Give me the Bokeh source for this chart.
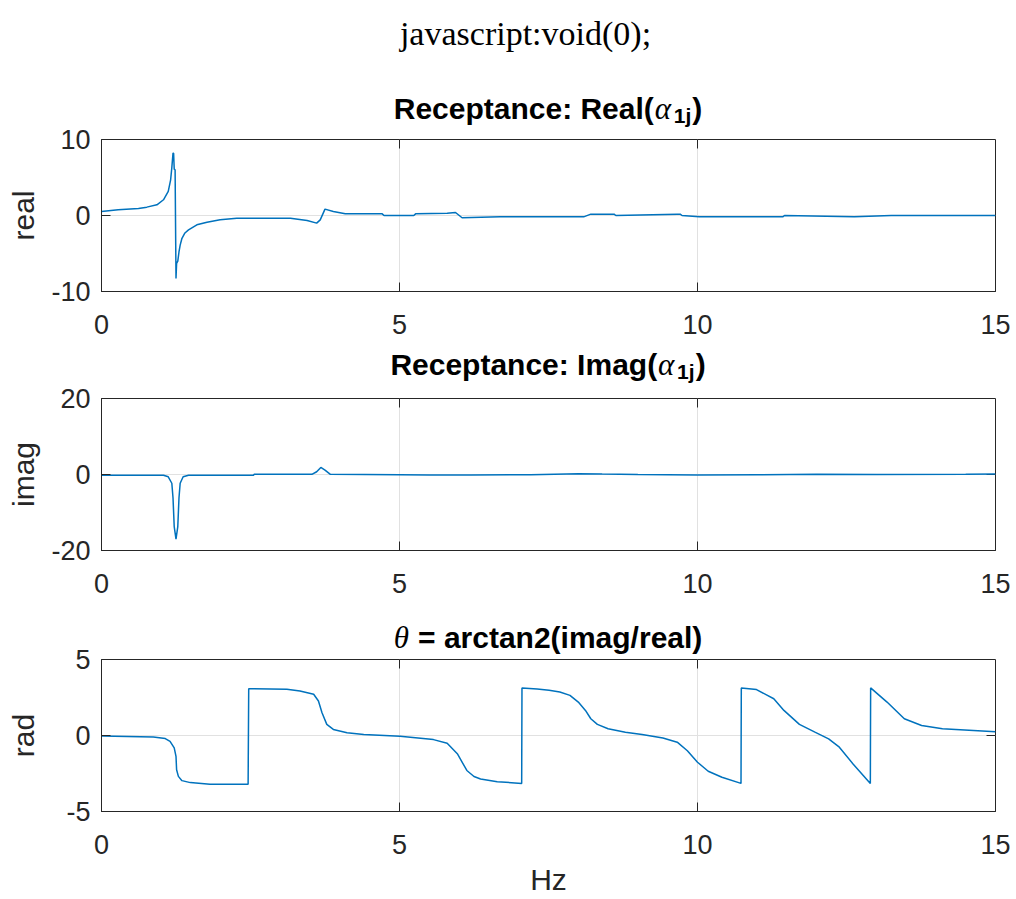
import math
from bokeh.plotting import figure
from bokeh.layouts import column
from bokeh.models import FixedTicker, LinearAxis, Range1d, Grid
from bokeh.core.properties import value
from bokeh.embed import file_html
from bokeh.resources import INLINE

# ---------------- data ----------------
freq_real = [0.00, 0.28, 0.62, 0.76, 0.93, 1.04, 1.12, 1.16, 1.18, 1.20, 1.21, 1.22, 1.235,
             1.25, 1.26, 1.28, 1.30, 1.32, 1.35, 1.40, 1.46, 1.60, 1.77, 1.99, 2.27, 2.60,
             3.00, 3.17, 3.45, 3.61, 3.67, 3.75, 3.89, 4.09, 4.71, 4.74, 5.24, 5.27, 5.80,
             5.94, 6.05, 6.69, 8.09, 8.21, 8.60, 8.63, 9.66, 9.71, 9.74, 10.03, 11.43, 11.46,
             12.63, 13.25, 15.00]
real_vals = [0.53, 0.75, 0.93, 1.10, 1.41, 2.07, 3.17, 4.70, 6.30, 8.20, 8.20, 6.10, 6.00,
             -8.30, -6.30, -6.00, -4.80, -3.90, -3.00, -2.30, -1.90, -1.23, -0.88, -0.57, -0.35, -0.35,
             -0.35, -0.35, -0.66, -1.00, -0.57, 0.84, 0.53, 0.22, 0.22, 0.00, 0.00, 0.22, 0.30,
             0.40, -0.30, -0.18, -0.18, 0.18, 0.18, 0.00, 0.18, 0.18, 0.00, -0.18, -0.18, 0.00,
             -0.18, 0.00, 0.00]

freq_imag = [0.00, 1.04, 1.12, 1.18, 1.20, 1.22, 1.25, 1.28, 1.30, 1.32, 1.37, 1.46, 2.55, 2.56,
             3.53, 3.61, 3.68, 3.75, 3.84, 5.00, 5.50, 6.20, 7.20, 8.00, 8.40, 9.00, 10.00,
             11.00, 12.00, 13.00, 14.50, 15.00]
imag_vals = [-0.20, -0.20, -0.60, -2.30, -6.20, -13.70, -17.00, -13.70, -6.20, -2.30, -0.60, -0.20,
             -0.20, 0.05, 0.05, 0.73, 1.85, 1.15, 0.05, -0.05, -0.10, -0.15, -0.05, 0.20, 0.10,
             0.00, -0.10, -0.05, 0.05, 0.00, 0.05, 0.10]

freq_phase = [0.00, 0.87, 1.07, 1.15, 1.22, 1.25, 1.26, 1.29, 1.35, 1.49, 1.82, 2.46, 2.47,
              3.11, 3.33, 3.56, 3.64, 3.70, 3.78, 3.89, 4.12, 4.40, 5.01, 5.57, 5.80, 5.97,
              6.13, 6.25, 6.36, 6.64, 7.05, 7.055, 7.31, 7.51, 7.69, 7.86, 8.00, 8.12, 8.21,
              8.32, 8.50, 8.79, 9.07, 9.42, 9.66, 9.83, 10.00, 10.18, 10.41, 10.73, 10.735,
              10.99, 11.28, 11.45, 11.71, 11.97, 12.20, 12.38, 12.61, 12.90, 12.905, 13.18,
              13.47, 13.76, 14.11, 14.63, 15.00]
phase_vals = [-0.04, -0.10, -0.20, -0.38, -0.82, -1.37, -2.25, -2.69, -2.97, -3.10, -3.20, -3.20, 3.08,
              3.04, 2.93, 2.71, 2.27, 1.50, 0.73, 0.40, 0.18, 0.07, -0.05, -0.27, -0.51, -1.20,
              -2.30, -2.70, -2.86, -3.04, -3.15, 3.13, 3.06, 2.97, 2.86, 2.64, 2.20, 1.65, 1.10,
              0.73, 0.44, 0.22, 0.07, -0.17, -0.44, -1.00, -1.76, -2.35, -2.75, -3.15, 3.13,
              3.02, 2.42, 1.65, 0.73, 0.22, -0.22, -0.77, -1.87, -3.15, 3.13, 2.20,
              1.10, 0.66, 0.44, 0.33, 0.25]

x_ticks = [0, 5, 10, 15]
real_ticks = [-10, 0, 10]
imag_ticks = [-20, 0, 20]
phase_ticks = [-5, 0, 5]

suptitle = "javascript:void(0);"
title_real = "Receptance: Real("
title_imag = "Receptance: Imag("
title_phase = "= arctan2(imag/real)"   # preceded by an italic theta and a space

FONT = "Liberation Sans"
SERIF = "Liberation Serif"
AX = "#262626"
BLUE = "#0072BD"
GRID = "#e1e1e1"
W = 1016
FRAME_L, FRAME_R = 101, 995
FRAME_H = 152
CX = 547.5

# Arial-bold advance widths (per 1000 em) for title layout
AW = {'R': 722, 'e': 556, 'c': 556, 'p': 611, 't': 333, 'a': 556, 'n': 611, ':': 333, ' ': 278,
      'l': 278, '(': 333, ')': 333, 'I': 278, 'm': 889, 'g': 611, '=': 584, 'r': 389, '2': 556,
      'i': 278, '/': 278, 'j': 278, '1': 556}


def bw(s, size):
    return sum(AW[c] for c in s) * size / 1000.0


def style_axis(ax, standoff):
    ax.major_tick_in = 9
    ax.major_tick_out = 0
    ax.minor_tick_in = 0
    ax.minor_tick_out = 0
    ax.major_tick_line_color = AX
    ax.axis_line_color = AX
    ax.major_label_text_font = FONT
    ax.major_label_text_font_size = "27px"
    ax.major_label_text_color = AX
    ax.major_label_standoff = standoff
    ax.axis_label_text_font = FONT
    ax.axis_label_text_font_style = "normal"
    ax.axis_label_text_font_size = "30px"
    ax.axis_label_text_color = AX


class Sub:
    def __init__(self, height, top, bottom, yr, yticks, ylabel, xvals, yvals, y_std, xlabel=None):
        self.yr = yr
        p = figure(width=W, height=height, output_backend="svg", toolbar_location=None,
                   x_range=Range1d(0, 15), y_range=Range1d(*yr),
                   x_axis_type=None, y_axis_type=None,
                   min_border_left=FRAME_L, min_border_right=W - FRAME_R,
                   min_border_top=top, min_border_bottom=bottom)
        p.outline_line_color = AX
        p.outline_line_width = 1
        p.background_fill_color = "white"
        p.border_fill_color = "white"

        p.add_layout(Grid(dimension=0, ticker=FixedTicker(ticks=x_ticks), grid_line_color=GRID))
        p.add_layout(Grid(dimension=1, ticker=FixedTicker(ticks=yticks), grid_line_color=GRID))

        xb = LinearAxis(ticker=FixedTicker(ticks=x_ticks),
                        major_label_overrides={t: str(t) for t in x_ticks})
        style_axis(xb, 23)
        if xlabel:
            xb.axis_label = xlabel
            xb.axis_label_standoff = 6
        p.add_layout(xb, "below")

        yl = LinearAxis(ticker=FixedTicker(ticks=yticks), axis_label=ylabel,
                        major_label_overrides={t: str(t) for t in yticks})
        style_axis(yl, 11)
        yl.axis_label_standoff = y_std
        p.add_layout(yl, "left")

        # inward tick marks on the top and right edges of the box (half clipped by the frame)
        inner_x = x_ticks[1:-1]
        p.scatter(x=inner_x, y=[yr[1]] * len(inner_x), marker="dash", angle=math.pi / 2,
                  size=18, line_color=AX, line_width=1)
        inner_y = yticks[1:-1]
        p.scatter(x=[x_ticks[-1]] * len(inner_y), y=inner_y, marker="dash",
                  size=18, line_color=AX, line_width=1)

        p.line(xvals, yvals, line_color=BLUE, line_width=1.5)
        self.p = p

    # pixel helpers: horizontal page pixel -> data x ; pixels above frame top -> data y
    def dx(self, px):
        return (px - FRAME_L) * 15.0 / (FRAME_R - FRAME_L)

    def dy(self, above):
        lo, hi = self.yr
        return hi + above * (hi - lo) / FRAME_H

    def put(self, px, above, txt, font, style, size, align="left"):
        self.p.text(x=[self.dx(px)], y=[self.dy(above)], text=[txt], text_font=value(font),
                    text_font_style=style, text_font_size=size, text_color="black",
                    text_align=align, text_baseline="alphabetic", level="overlay")

    def alpha_title(self, part1, above):
        w1 = bw(part1, 30)
        wa = 19
        ws = bw("1j", 21)
        wc = bw(")", 30)
        total = w1 + 1 + wa + ws + 1 + wc
        s = CX - total / 2.0
        self.put(s, above, part1, FONT, "bold", "30px")
        self.put(s + w1 + 1, above, "\u03b1", SERIF, "italic", "31px")
        self.put(s + w1 + 1 + wa, above - 7, "1j", FONT, "bold", "21px")
        self.put(s + w1 + 1 + wa + ws + 1, above, ")", FONT, "bold", "30px")


s1 = Sub(345, 139, 54, (-10, 10), real_ticks, "real", freq_real, real_vals, 8)
s2 = Sub(260, 53, 55, (-20, 20), imag_ticks, "imag", freq_imag, imag_vals, 8)
s3 = Sub(294, 54, 88, (-5, 5), phase_ticks, "rad", freq_phase, phase_vals, 23, xlabel="Hz")

# figure super-title
s1.put(525, 106, suptitle, SERIF, "normal", "34px", align="center")

s1.alpha_title(title_real, 31)
s2.alpha_title(title_imag, 34)

wsp = bw(" ", 30)
wb3 = bw(title_phase, 30)
wt = 16
st = CX - (wt + wsp + wb3) / 2.0
s3.put(st, 22, "\u03b8", SERIF, "italic", "31px")
s3.put(st + wt + wsp, 22, title_phase, FONT, "bold", "30px")

layout = column(s1.p, s2.p, s3.p, spacing=0)
open("out.html", "w").write(file_html(layout, INLINE))
